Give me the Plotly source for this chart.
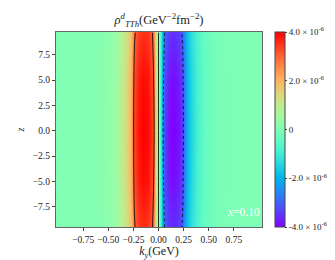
import math
import plotly.graph_objects as go

# ---- data (values in units of 1e-6 GeV^-2 fm^-2) ----
ky = [-1.0, -0.6, -0.45, -0.38, -0.32, -0.28, -0.26, -0.24, -0.2, -0.15, -0.1, -0.06, -0.04, -0.02, 0.0,
      0.02, 0.04, 0.06, 0.1, 0.15, 0.2, 0.24, 0.26, 0.28, 0.32, 0.38, 0.45, 0.6, 1.0]
z_vals = [-9.7, -5.0, 0.0, 5.0, 9.7]

row_center = [0.005, 0.08, 0.35, 0.8, 1.4, 1.9, 2.5, 3.3, 3.8, 4.0, 3.9, 3.4, 2.9, 1.2, 0.0,
              -1.3, -2.8, -3.4, -3.9, -4.0, -3.8, -3.3, -2.5, -2.0, -1.5, -0.9, -0.45, -0.1, -0.005]
row_mid = [0.005, 0.08, 0.33, 0.77, 1.35, 1.85, 2.4, 3.2, 3.7, 3.9, 3.8, 3.3, 2.8, 1.15, 0.0,
           -1.25, -2.7, -3.3, -3.8, -3.9, -3.7, -3.2, -2.4, -1.95, -1.45, -0.87, -0.43, -0.1, -0.005]
row_edge = [0.005, 0.07, 0.3, 0.7, 1.2, 1.7, 2.2, 2.9, 3.35, 3.55, 3.45, 3.0, 2.5, 1.0, 0.0,
            -1.1, -2.4, -3.0, -3.45, -3.55, -3.35, -2.9, -2.2, -1.8, -1.3, -0.8, -0.4, -0.09, -0.005]
rows = [row_edge, row_mid, row_center, row_mid, row_edge]
scale = 1e-6

cbar_vals = [-4e-6, -2e-6, 0, 2e-6, 4e-6]
cbar_text = ["-4.0 × 10<sup>-6</sup>", "-2.0 × 10<sup>-6</sup>", "0",
             "2.0 × 10<sup>-6</sup>", "4.0 × 10<sup>-6</sup>"]
x_ticks = [-0.75, -0.5, -0.25, 0.0, 0.25, 0.5, 0.75]
y_ticks = [-7.5, -5.0, -2.5, 0.0, 2.5, 5.0, 7.5]

# ---- matplotlib "rainbow" colormap ----
def rainbow(t):
    r = min(1.0, abs(2 * t - 0.5))
    g = math.sin(math.pi * t)
    b = math.cos(math.pi * t / 2)
    return "rgb(%d,%d,%d)" % (round(r * 255), round(g * 255), round(max(b, 0) * 255))

cscale = [[i / 20, rainbow(i / 20)] for i in range(21)]

zmat = [[v * scale for v in r] for r in rows]

FONT = "Liberation Serif"

fig = go.Figure()
fig.add_trace(go.Heatmap(
    x=ky, y=z_vals, z=zmat, zmin=-4e-6, zmax=4e-6, zsmooth="best",
    colorscale=cscale, hoverinfo="skip",
    colorbar=dict(
        tickvals=cbar_vals, ticktext=cbar_text, thickness=10, len=1.0,
        lenmode="fraction", y=0.5, yanchor="middle", x=1.061, xanchor="left",
        xpad=0, ypad=0, outlinewidth=1, outlinecolor="#444",
        ticks="outside", ticklen=2, tickcolor="#444",
        tickfont=dict(family=FONT, size=9, color="#222"),
    ),
))
fig.add_trace(go.Contour(
    x=ky, y=z_vals, z=zmat, showscale=False, hoverinfo="skip",
    contours=dict(coloring="lines", start=0, end=3e-6, size=3e-6),
    line=dict(color="rgba(20,20,20,0.8)", width=0.8),
    colorscale=[[0, "black"], [1, "black"]],
))
fig.add_trace(go.Contour(
    x=ky, y=z_vals, z=zmat, showscale=False, hoverinfo="skip",
    contours=dict(coloring="lines", start=-3e-6, end=-3e-6, size=1e-6),
    line=dict(color="rgba(20,20,20,0.8)", width=0.8, dash="dot"),
    colorscale=[[0, "black"], [1, "black"]],
))

axis_common = dict(showline=True, linecolor="#666", linewidth=1.2, mirror=True,
                   ticks="outside", ticklen=3, tickcolor="#444", showgrid=False,
                   zeroline=False, tickfont=dict(family=FONT, size=9.5, color="#222"))

fig.update_layout(
    width=335, height=260,
    margin=dict(l=41, r=81, t=24, b=38),
    paper_bgcolor="white", plot_bgcolor="white",
    font=dict(family=FONT, color="#222"),
    title=dict(text="<i>ρ</i><sup><i>d</i></sup><sub><i>TTh</i></sub>(GeV<sup>−2</sup>fm<sup>−2</sup>)",
               xref="paper", x=0.5, xanchor="center", y=0.955, yanchor="middle",
               font=dict(family=FONT, size=12.5, color="#222")),
    xaxis=dict(range=[-1.02, 1.03], tickvals=x_ticks, tickformat=".2f",
               title=dict(text="<i>k<sub>y</sub></i>(GeV)", font=dict(family=FONT, size=12), standoff=3),
               **axis_common),
    yaxis=dict(range=[-9.5, 9.75], tickvals=y_ticks, tickformat=".1f",
               title=dict(text="<i>z</i>", font=dict(family=FONT, size=10), standoff=6),
               **axis_common),
    annotations=[dict(x=0.85, y=-8.05, xref="x", yref="y", text="<i>x</i>=0.10",
                      showarrow=False, font=dict(family=FONT, size=11.5, color="white"))],
)

fig.write_html("out.html")
